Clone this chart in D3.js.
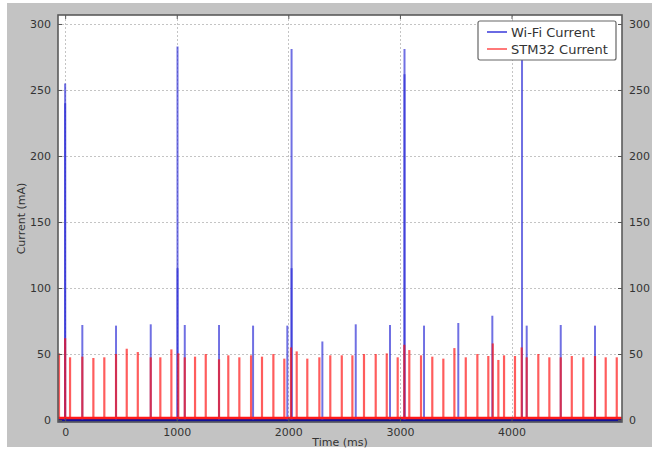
<!DOCTYPE html>
<html>
<head>
<meta charset="utf-8">
<script src="https://cdn.jsdelivr.net/npm/d3@7"></script>
<style>
  html, body { margin: 0; padding: 0; background: #ffffff; }
  svg { display: block; }
  text { font-family: "DejaVu Sans", Verdana, sans-serif; fill: #333; }
</style>
</head>
<body>
<svg id="chart" width="652" height="450"></svg>
<script>
// Wi-Fi module current: idle level and current peaks (time in ms, value in mA)
const wifiIdle = 0;
const wifiPeakTimes = [0, 0, 154, 456, 767, 1007, 1007, 1072, 1379, 1684, 1991, 2029, 2029, 2305,
  2604, 2911, 3041, 3041, 3216, 3523, 3828, 4094, 4136, 4441, 4748];
const wifiPeakValues = [255, 240, 72, 71.5, 72.5, 283, 115, 72, 72, 71.5, 71.5, 281, 115, 59.5,
  72.5, 72, 281, 262, 71.5, 73.5, 79, 282, 71.5, 72, 71.5];

// STM32 current: idle level and periodic peaks
const stmIdle = 1.5;
const stmPeakTimes = [-55, 0, 44, 154, 253, 351, 456, 552, 651, 767, 853, 952, 1014, 1072, 1164,
  1260, 1379, 1462, 1561, 1666, 1764, 1866, 1964, 2024, 2075, 2170, 2278, 2376, 2479, 2574, 2678,
  2783, 2882, 2980, 3039, 3084, 3189, 3290, 3389, 3488, 3590, 3694, 3792, 3832, 3882, 3933, 4031,
  4091, 4136, 4240, 4339, 4441, 4540, 4643, 4748, 4844, 4943];
const stmPeakValues = [50.5, 62, 47.5, 48, 47, 47.5, 50, 54, 51.5, 47.5, 47.5, 53.5, 50.5, 47.5, 48,
  50, 46, 49, 47.5, 49, 48, 50, 46.5, 55, 52, 46.5, 47.5, 49, 49, 49, 50,
  50, 50.5, 47.5, 57, 53, 49, 48, 46.5, 54.5, 47.5, 50, 48.5, 58, 45.5, 49, 48.5,
  55, 47.5, 50, 47.5, 47.5, 48.5, 47.5, 48.5, 47.5, 47.5];

// Axis ticks and labels
const xTicks = [0, 1000, 2000, 3000, 4000];
const yTicks = [0, 50, 100, 150, 200, 250, 300];
const seriesNames = ["Wi-Fi Current", "STM32 Current"];
const xTitle = "Time (ms)";
const yTitle = "Current (mA)";

const svg = d3.select("#chart");
const W = 652, H = 450;
const plot = { left: 58, right: 622, top: 15, bottom: 422 };

// page backdrop
svg.append("rect").attr("x", 7).attr("y", 3).attr("width", W - 7).attr("height", 444)
  .attr("fill", "#c3c3c3");

const x = d3.scaleLinear().domain([-64, 4990]).range([plot.left, plot.right]);
const y = d3.scaleLinear().domain([-1.5, 306.8]).range([plot.bottom, plot.top]);

// plot background
svg.append("rect")
  .attr("x", plot.left).attr("y", plot.top)
  .attr("width", plot.right - plot.left).attr("height", plot.bottom - plot.top)
  .attr("fill", "#ffffff");

// dotted grid
const grid = svg.append("g").attr("stroke", "#c4c4c4").attr("stroke-width", 1)
  .attr("stroke-dasharray", "2,2");
grid.selectAll("line.gx").data(xTicks).join("line")
  .attr("x1", d => Math.round(x(d)) + 0.5).attr("x2", d => Math.round(x(d)) + 0.5)
  .attr("y1", plot.top).attr("y2", plot.bottom);
grid.selectAll("line.gy").data(yTicks).join("line")
  .attr("y1", d => Math.round(y(d)) + 0.5).attr("y2", d => Math.round(y(d)) + 0.5)
  .attr("x1", plot.left).attr("x2", plot.right);

const wifi = wifiPeakTimes.map((t, i) => ({ t, v: wifiPeakValues[i] }));
const stm = stmPeakTimes.map((t, i) => ({ t, v: stmPeakValues[i] }));

const marks = svg.append("g");

// Wi-Fi idle trace and peaks
marks.append("line")
  .attr("x1", plot.left).attr("x2", plot.right)
  .attr("y1", y(wifiIdle) + 0.5).attr("y2", y(wifiIdle) + 0.5)
  .attr("stroke", "#12129a").attr("stroke-width", 3.5);
marks.append("g").selectAll("line").data(wifi).join("line")
  .attr("x1", d => x(d.t)).attr("x2", d => x(d.t))
  .attr("y1", y(wifiIdle)).attr("y2", d => y(d.v))
  .attr("stroke", "#2c2cd6").attr("stroke-opacity", 0.68).attr("stroke-width", 2);

// STM32 idle trace and peaks
marks.append("g").selectAll("line").data(stm).join("line")
  .attr("x1", d => x(d.t)).attr("x2", d => x(d.t))
  .attr("y1", y(stmIdle)).attr("y2", d => y(d.v))
  .attr("stroke", "#ff1010").attr("stroke-opacity", 0.68).attr("stroke-width", 2.2);
marks.append("line")
  .attr("x1", plot.left).attr("x2", plot.right)
  .attr("y1", y(stmIdle)).attr("y2", y(stmIdle))
  .attr("stroke", "#ff1a1a").attr("stroke-width", 2.5);

// axes with inward ticks
const axisStyle = g => {
  g.select(".domain").remove();
  g.selectAll(".tick line").attr("stroke", "#555");
  g.selectAll(".tick text").attr("font-size", 11).attr("fill", "#333")
    .attr("font-family", "DejaVu Sans, Verdana, sans-serif");
};
svg.append("g").attr("transform", `translate(${plot.left},0)`)
  .call(d3.axisLeft(y).tickValues(yTicks).tickSize(-4).tickPadding(7).tickFormat(d3.format("d")))
  .call(axisStyle);
svg.append("g").attr("transform", `translate(${plot.right},0)`)
  .call(d3.axisRight(y).tickValues(yTicks).tickSize(-4).tickPadding(7).tickFormat(d3.format("d")))
  .call(axisStyle);
svg.append("g").attr("transform", `translate(0,${plot.bottom})`)
  .call(d3.axisBottom(x).tickValues(xTicks).tickSize(-4).tickPadding(6).tickFormat(d3.format("d")))
  .call(axisStyle);
svg.append("g").attr("transform", `translate(0,${plot.top})`)
  .call(d3.axisTop(x).tickValues(xTicks).tickSize(-4).tickFormat(""))
  .call(axisStyle);

// frame
svg.append("rect")
  .attr("x", plot.left).attr("y", plot.top)
  .attr("width", plot.right - plot.left).attr("height", plot.bottom - plot.top)
  .attr("fill", "none").attr("stroke", "#5a5a5a").attr("stroke-width", 1.6);

// axis titles
svg.append("text").attr("x", (plot.left + plot.right) / 2).attr("y", 445.5)
  .attr("text-anchor", "middle").attr("font-size", 11).text(xTitle);
svg.append("text").attr("transform", `translate(25,${(plot.top + plot.bottom) / 2}) rotate(-90)`)
  .attr("text-anchor", "middle").attr("font-size", 11).text(yTitle);

// legend
const lg = svg.append("g").attr("transform", "translate(478,21)");
lg.append("rect").attr("width", 138).attr("height", 39).attr("rx", 2)
  .attr("fill", "#ffffff").attr("stroke", "#666").attr("stroke-width", 1.2);
const legendColors = ["#5a5ae0", "#ff6a6a"];
seriesNames.forEach((name, i) => {
  const yy = 11 + i * 17;
  lg.append("line").attr("x1", 9).attr("x2", 29).attr("y1", yy).attr("y2", yy)
    .attr("stroke", legendColors[i]).attr("stroke-width", 1.8);
  lg.append("text").attr("x", 33).attr("y", yy + 4.5).attr("font-size", 13).attr("fill", "#222")
    .text(name);
});
</script>
</body>
</html>
